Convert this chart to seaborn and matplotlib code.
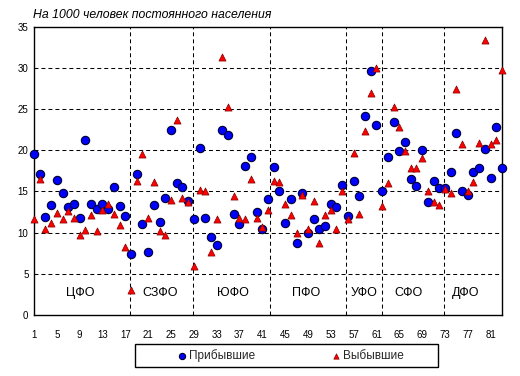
import numpy as np
import pandas as pd
import matplotlib
matplotlib.use("Agg")
import matplotlib.pyplot as plt
import seaborn as sns
from matplotlib.patches import Rectangle

# ---- data ----
regions = list(range(1, 84))
arrived = [19.5, 17.1, 11.9, 13.4, 16.4, 14.8, 13.1, 13.5, 11.8, 21.2,
           13.5, 12.9, 13.5, 12.9, 15.5, 13.2, 12.0, 7.4, 17.1, 11.1,
           7.7, 13.4, 11.3, 14.2, 22.4, 16.0, 15.6, 13.8, 11.7, 20.3,
           11.8, 9.5, 8.5, 22.4, 21.8, 12.3, 11.1, 18.1, 19.2, 12.5,
           10.5, 14.1, 18.0, 15.0, 11.2, 14.1, 8.7, 14.8, 9.9, 11.6,
           10.4, 10.8, 13.5, 13.1, 15.8, 12.0, 16.3, 14.5, 24.2, 29.6,
           23.1, 15.0, 19.2, 23.4, 19.9, 21.0, 16.5, 15.7, 20.0, 13.7,
           16.3, 15.4, 15.4, 17.3, 22.1, 15.1, 14.6, 17.4, 17.8, 20.2,
           16.6, 22.8, 17.8]
departed = [11.7, 16.5, 10.4, 11.2, 12.4, 11.7, 12.6, 11.8, 9.7, 10.3,
            12.1, 10.2, 12.8, 13.5, 12.3, 10.9, 8.3, 3.0, 16.3, 19.5,
            11.8, 16.2, 10.2, 9.7, 14.0, 23.7, 14.2, 13.7, 6.0, 15.2,
            15.0, 7.7, 11.6, 31.3, 25.3, 14.5, 11.8, 11.7, 16.5, 11.8,
            10.7, 12.8, 16.3, 16.1, 13.5, 12.2, 10.0, 14.6, 10.5, 13.9,
            8.7, 12.2, 12.8, 10.4, 15.0, 11.7, 19.7, 12.3, 22.3, 27.0,
            30.0, 13.2, 16.0, 25.3, 22.8, 19.9, 17.8, 17.9, 19.1, 15.0,
            13.7, 13.3, 15.3, 14.8, 27.4, 20.8, 15.0, 16.2, 20.9, 33.4,
            20.7, 21.3, 29.7]
districts = ["ЦФО", "СЗФО", "ЮФО", "ПФО", "УФО", "СФО", "ДФО"]
district_label_x = [9.1, 23.1, 35.9, 48.6, 58.8, 66.7, 76.7]
district_label_y = 2.7
dividers = [17.85, 28.85, 42.3, 55.75, 61.96, 72.9]
x_ticks = list(range(1, 84, 4))
y_ticks = list(range(0, 36, 5))
series_names = ["Прибывшие", "Выбывшие"]
title = "На 1000 человек постоянного населения"

df_a = pd.DataFrame({"region": regions, "value": arrived})
df_d = pd.DataFrame({"region": regions, "value": departed})

sns.set_theme(style="white")
plt.rcParams["font.family"] = ["Liberation Sans", "DejaVu Sans"]

fig = plt.figure(figsize=(5.2, 3.76), dpi=100)
ax = fig.add_axes([34 / 520, 61 / 376, 468 / 520, 288.3 / 376])

sns.scatterplot(data=df_a, x="region", y="value", ax=ax, marker="o", s=36,
                color="#0000FF", edgecolor="#000033", linewidth=0.8,
                label=series_names[0], zorder=3, clip_on=False)
sns.scatterplot(data=df_d, x="region", y="value", ax=ax, marker="^", s=26,
                color="#FF0000", edgecolor="#800000", linewidth=0.5,
                label=series_names[1], zorder=4, clip_on=False)

ax.set_xlim(1, 83)
ax.set_ylim(0, 35)
ax.set_xticks(x_ticks)
ax.set_yticks(y_ticks)
ax.tick_params(axis="both", length=0, labelsize=7, colors="black")
ax.tick_params(axis="x", pad=11)
ax.tick_params(axis="y", pad=4)
ax.set_xlabel("")
ax.set_ylabel("")

dash = (0, (3.8, 2.9))
for yv in y_ticks[1:-1]:
    ax.axhline(yv, color="black", linestyle=dash, linewidth=0.75, zorder=1)
for xv in dividers:
    ax.axvline(xv, color="black", linestyle=dash, linewidth=0.75, zorder=1)

for name, xv in zip(districts, district_label_x):
    ax.text(xv, district_label_y, name, ha="center", va="center", fontsize=9,
            color="black", zorder=5)

for sp in ax.spines.values():
    sp.set_visible(True)
    sp.set_color("black")
    sp.set_linewidth(1.0)

fig.text(33 / 520, 1 - 15 / 376, title, ha="left", va="center",
         fontsize=8.8, style="italic", color="black")

# legend
ax.get_legend().remove()
handles, labels = ax.get_legend_handles_labels()
leg = fig.legend(handles, labels, loc="center", ncol=2, mode="expand",
                 bbox_to_anchor=(170 / 520, 1 - 366.7 / 376, 240 / 520, 22.4 / 376),
                 frameon=False, fontsize=8.5, handletextpad=0.1,
                 handlelength=1.0, borderpad=0.0, markerscale=0.75)
fig.patches.append(Rectangle((135 / 520, 1 - 366.7 / 376), 302.7 / 520, 22.4 / 376,
                             transform=fig.transFigure, fill=False,
                             edgecolor="black", linewidth=1.0))

fig.savefig("out.png", dpi=100)
